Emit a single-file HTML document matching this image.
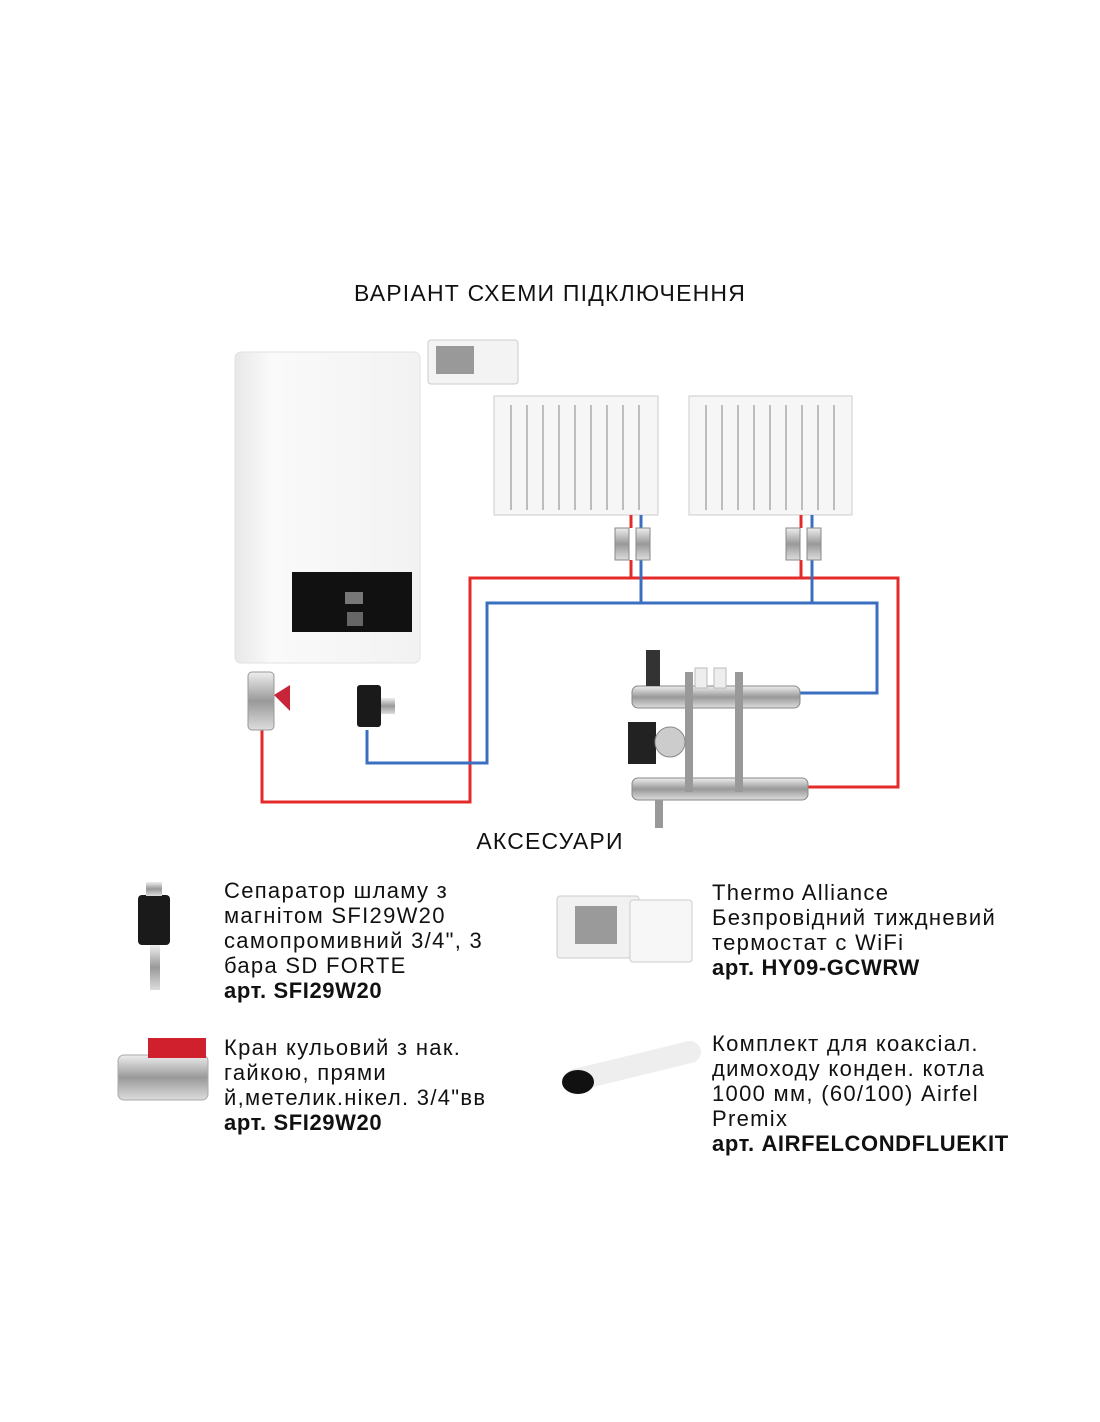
<!DOCTYPE html>
<html><head><meta charset="utf-8"><style>
body{margin:0;width:1100px;height:1422px;background:#fff;position:relative;font-family:"Liberation Sans","DejaVu Sans",sans-serif;color:#111;overflow:hidden}
.t{position:absolute;font-size:22px;line-height:25px;letter-spacing:1.3px;white-space:nowrap}
.h{position:absolute;font-size:23px;width:1100px;text-align:center;letter-spacing:1.2px}
b{font-weight:bold;letter-spacing:0.6px}
</style></head><body>
<div class="h" style="top:280px">ВАРІАНТ СХЕМИ ПІДКЛЮЧЕННЯ</div>
<svg width="1100" height="1422" style="position:absolute;left:0;top:0">
<defs>
<linearGradient id="bg" x1="0" x2="1"><stop offset="0" stop-color="#e8e8e8"/><stop offset=".2" stop-color="#fafafa"/><stop offset="1" stop-color="#f2f2f2"/></linearGradient>
<linearGradient id="met" x1="0" y1="0" x2="0" y2="1"><stop offset="0" stop-color="#eee"/><stop offset=".5" stop-color="#999"/><stop offset="1" stop-color="#ddd"/></linearGradient>
</defs>
<rect x="235" y="352" width="185" height="311" rx="6" fill="url(#bg)" stroke="#e2e2e2"/>
<rect x="292" y="572" width="120" height="60" fill="#111"/>
<rect x="345" y="592" width="18" height="12" fill="#777"/>
<rect x="347" y="612" width="16" height="14" fill="#666"/>
<rect x="428" y="340" width="90" height="44" rx="3" fill="#f3f3f3" stroke="#ccc"/>
<rect x="436" y="346" width="38" height="28" fill="#999"/>
<g fill="#f6f6f6" stroke="#ccc">
<rect x="494" y="396" width="164" height="119"/>
<rect x="689" y="396" width="163" height="119"/>
</g>
<g stroke="#aaa" stroke-width="1.5">
<path d="M511 405V510M527 405V510M543 405V510M559 405V510M575 405V510M591 405V510M607 405V510M623 405V510M639 405V510"/>
<path d="M706 405V510M722 405V510M738 405V510M754 405V510M770 405V510M786 405V510M802 405V510M818 405V510M834 405V510"/>
</g>
<g fill="none" stroke-width="3">
<path stroke="#e32b2b" d="M262 730V802H470V578H898V787H808M631 578V560M801 578V560M631 528V515M801 528V515"/>
<path stroke="#3a6fc0" d="M367 730V763H487V603H877V693H800M641 603V560M812 603V560M641 528V515M812 528V515"/>
</g>
<g fill="url(#met)" stroke="#888">
<rect x="615" y="528" width="14" height="32"/><rect x="636" y="528" width="14" height="32"/>
<rect x="786" y="528" width="14" height="32"/><rect x="807" y="528" width="14" height="32"/>
</g>
<rect x="248" y="672" width="26" height="58" rx="4" fill="url(#met)" stroke="#999"/>
<path d="M274 695l16-10v26z" fill="#c8243a"/>
<rect x="357" y="685" width="24" height="42" rx="3" fill="#1a1a1a"/>
<rect x="381" y="698" width="14" height="16" fill="url(#met)"/>
<rect x="632" y="686" width="168" height="22" rx="6" fill="url(#met)" stroke="#888"/>
<rect x="632" y="778" width="176" height="22" rx="6" fill="url(#met)" stroke="#888"/>
<rect x="685" y="672" width="8" height="120" fill="#999"/><rect x="735" y="672" width="8" height="120" fill="#999"/>
<rect x="628" y="722" width="28" height="42" fill="#222"/><circle cx="670" cy="742" r="15" fill="#ccc" stroke="#888"/>
<rect x="695" y="668" width="12" height="20" fill="#eee" stroke="#bbb"/><rect x="714" y="668" width="12" height="20" fill="#eee" stroke="#bbb"/>
<rect x="646" y="650" width="14" height="36" fill="#333"/>
<rect x="655" y="800" width="8" height="28" fill="#999"/>
<rect x="138" y="895" width="32" height="50" rx="4" fill="#1a1a1a"/>
<rect x="146" y="882" width="16" height="14" fill="url(#met)"/><rect x="150" y="945" width="10" height="45" fill="url(#met)"/>
<rect x="118" y="1055" width="90" height="45" rx="6" fill="url(#met)" stroke="#aaa"/>
<path d="M148 1038h58v20h-58z" fill="#d0202e"/>
<rect x="557" y="896" width="82" height="62" rx="3" fill="#f1f1f1" stroke="#ccc"/>
<rect x="575" y="906" width="42" height="38" fill="#9a9a9a"/>
<rect x="630" y="900" width="62" height="62" rx="3" fill="#f7f7f7" stroke="#ccc"/>
<path d="M575 1080L690 1052" stroke="#eee" stroke-width="22" stroke-linecap="round"/>
<ellipse cx="578" cy="1082" rx="16" ry="12" fill="#111"/>
</svg>
<div class="h" style="top:828px">АКСЕСУАРИ</div>
<div class="t" style="left:224px;top:878px">Сепаратор шламу з<br>магнітом SFI29W20<br>самопромивний 3/4", 3<br>бара SD FORTE<br><b>арт. SFI29W20</b></div>
<div class="t" style="left:224px;top:1035px">Кран кульовий з нак.<br>гайкою, прями<br>й,метелик.нікел. 3/4"вв<br><b>арт. SFI29W20</b></div>
<div class="t" style="left:712px;top:880px">Thermo Alliance<br>Безпровідний тиждневий<br>термостат с WiFi<br><b>арт. HY09-GCWRW</b></div>
<div class="t" style="left:712px;top:1031px">Комплект для коаксіал.<br>димоходу конден. котла<br>1000 мм, (60/100) Airfel<br>Premix<br><b>арт. AIRFELCONDFLUEKIT</b></div>
</body></html>
